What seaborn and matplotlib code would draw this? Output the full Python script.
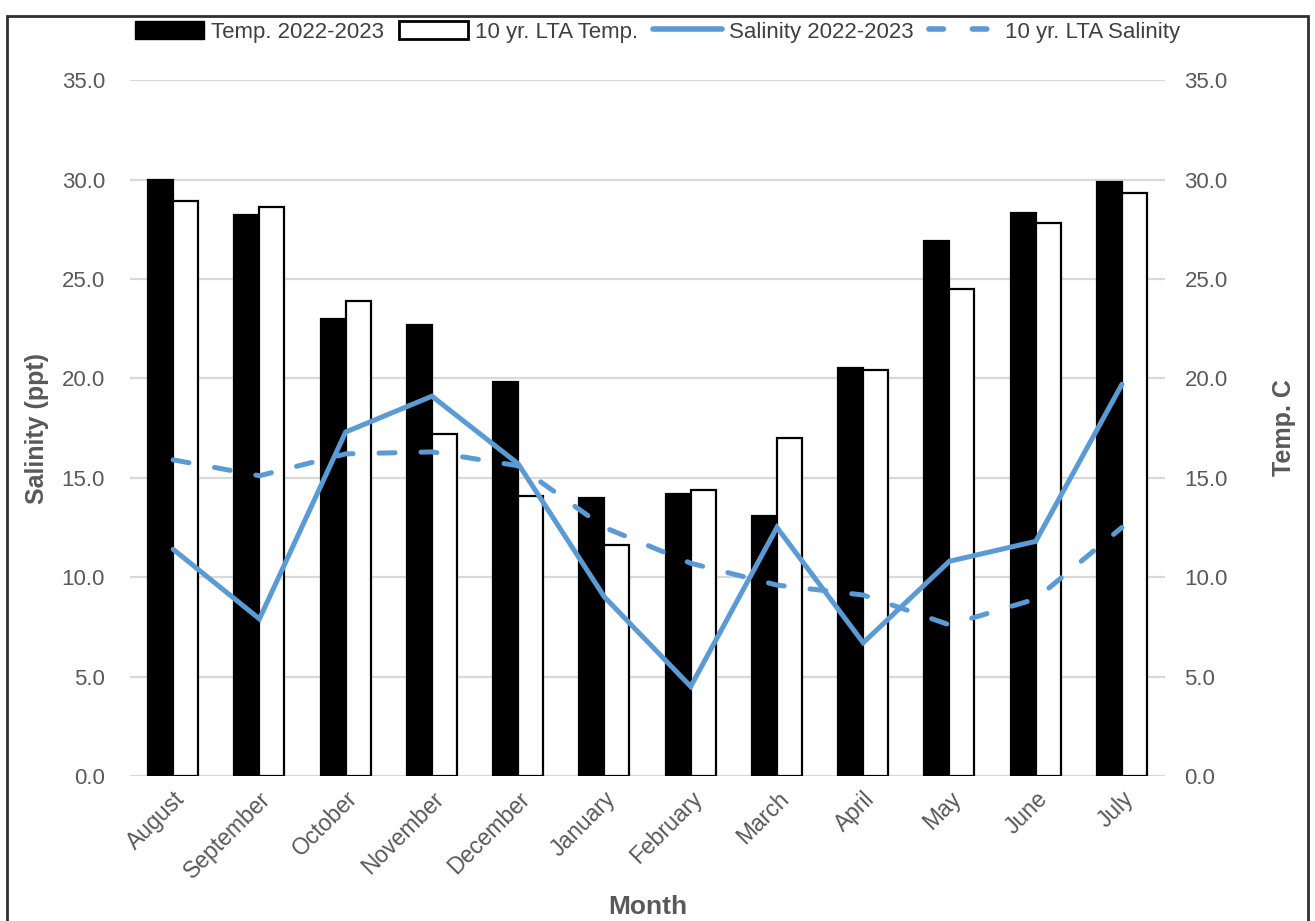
import numpy as np
import pandas as pd
import matplotlib
matplotlib.use("Agg")
import matplotlib.pyplot as plt
from matplotlib.patches import Patch, Rectangle
from matplotlib.lines import Line2D
import seaborn as sns

months = ["August", "September", "October", "November", "December", "January",
          "February", "March", "April", "May", "June", "July"]
temp_2022_2023 = [30.0, 28.2, 23.0, 22.7, 19.8, 14.0, 14.2, 13.1, 20.5, 26.9, 28.3, 29.9]
temp_lta = [28.9, 28.6, 23.9, 17.2, 14.1, 11.6, 14.4, 17.0, 20.4, 24.5, 27.8, 29.3]
salinity_2022_2023 = [11.4, 7.9, 17.3, 19.1, 15.7, 9.0, 4.5, 12.5, 6.7, 10.8, 11.8, 19.7]
salinity_lta = [15.9, 15.1, 16.2, 16.3, 15.6, 12.5, 10.7, 9.6, 9.1, 7.6, 8.9, 12.5]
series_names = ["Temp. 2022-2023", "10 yr. LTA Temp.", "Salinity 2022-2023", "10 yr. LTA Salinity"]
y_ticks = np.arange(0, 35.1, 5.0)

sns.set_theme(style="white")
plt.rcParams["font.family"] = ["Liberation Sans", "DejaVu Sans"]
text_grey = "#595959"
blue = "#5b9bd5"
lw = 3.6

fig = plt.figure(figsize=(13.15, 9.21), dpi=100)
ax = fig.add_axes([0.0989, 0.1575, 0.7871, 0.7555])

# Salinity lines on the left axis
sns.lineplot(x=months, y=salinity_2022_2023, sort=False, ax=ax, color=blue,
             linewidth=lw, solid_capstyle="round", solid_joinstyle="miter")
sns.lineplot(x=months, y=salinity_lta, sort=False, ax=ax, color=blue,
             linewidth=lw, dashes=False)
ax.lines[-1].set_linestyle((0, (3.2, 5.2)))
ax.lines[-1].set_dash_capstyle("round")

# Temperature bars on the right axis
ax2 = ax.twinx()
bars = pd.DataFrame({
    "Month": months * 2,
    "Temp": temp_2022_2023 + temp_lta,
    "Series": [series_names[0]] * 12 + [series_names[1]] * 12,
})
sns.barplot(data=bars, x="Month", y="Temp", hue="Series", order=months,
            palette=["black", "white"], edgecolor="black", linewidth=1.6,
            width=0.58, gap=0, ax=ax2, legend=False, saturation=1)

# Lines above bars
ax.set_zorder(ax2.get_zorder() + 1)
ax.patch.set_visible(False)

for a in (ax, ax2):
    a.set_ylim(0, 35)
    a.set_yticks(y_ticks)
    a.set_yticklabels([f"{v:.1f}" for v in y_ticks])
    a.set_xlim(-0.5, 11.5)
    for s in a.spines.values():
        s.set_visible(False)
    a.tick_params(length=0, labelsize=16, labelcolor=text_grey)

ax2.yaxis.grid(True, color="#d9d9d9", linewidth=1.6)
ax2.set_axisbelow(True)
ax.yaxis.grid(False)
ax2.tick_params(labelbottom=False)
ax2.tick_params(axis="y", pad=14)
ax.tick_params(axis="y", pad=18)
ax.tick_params(axis="x", pad=8, labelsize=16.5)
ax.set_xticks(range(len(months)))
ax.set_xticklabels(months, rotation=45, ha="right", rotation_mode="anchor")

ax.set_ylabel("Salinity (ppt)", fontsize=18, fontweight="bold", color=text_grey, labelpad=9)
ax2.set_ylabel("Temp. C", fontsize=18, fontweight="bold", color=text_grey, labelpad=32)
ax.set_xlabel("Month", fontsize=19, fontweight="bold", color=text_grey, labelpad=9)
ax2.set_xlabel("")

handles = [
    Patch(facecolor="black", edgecolor="black"),
    Patch(facecolor="white", edgecolor="black", linewidth=2),
    Line2D([], [], color=blue, linewidth=lw + 0.4, solid_capstyle="round"),
    Line2D([], [], color=blue, linewidth=lw + 0.4, linestyle=(0, (2.6, 5.2)), dash_capstyle="round"),
]
fig.legend(handles, series_names, loc="center", bbox_to_anchor=(0.5, 0.9655), ncol=4,
           frameon=False, fontsize=16, handlelength=3.1, handleheight=0.9,
           handletextpad=0.3, columnspacing=0.7, labelcolor="#404040")

# Outer border of the figure
fig.patches.append(Rectangle((7 / 1315, -0.05), 1301 / 1315, 1 - 16 / 921 + 0.05,
                             transform=fig.transFigure, fill=False,
                             edgecolor="#303030", linewidth=2, clip_on=False))

fig.savefig("out.png", dpi=100)
